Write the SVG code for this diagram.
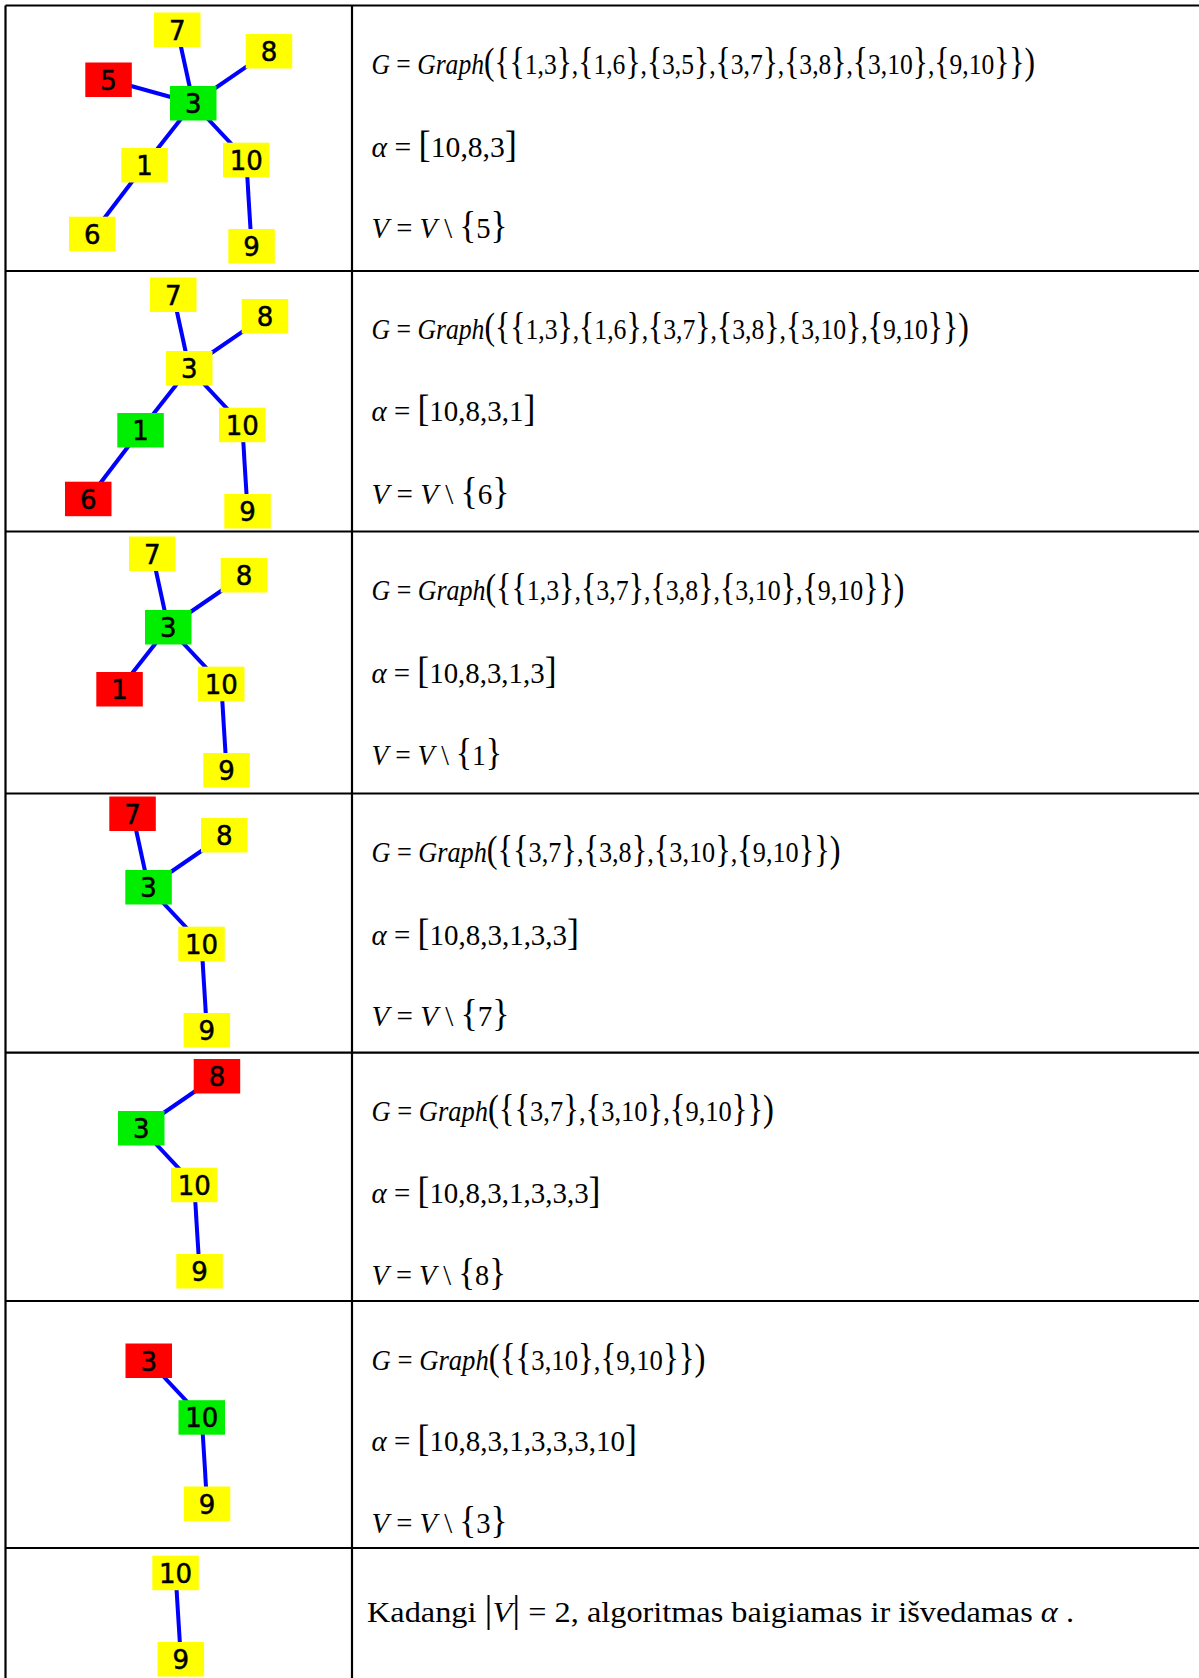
<svg xmlns="http://www.w3.org/2000/svg" width="1199" height="1678" viewBox="0 0 1199 1678">
  <style>
    .cell { stroke: #000; stroke-width: 2.2; fill: none; }
    .edge { stroke: #0000ff; stroke-width: 4; }
    .y { fill: #ffff00; }
    .g { fill: #00ee00; }
    .r { fill: #ff0000; }
    .lbl { font-family: "DejaVu Sans", Verdana, sans-serif; font-size: 26px; text-anchor: middle; fill: #000; stroke: #000; stroke-width: 0.5px; }
    .m { font-family: "Liberation Serif", "Times New Roman", serif; font-size: 30px; fill: #000; }
    .i { font-style: italic; }
    .b { font-size: 37px; }
  </style>
  <rect x="0" y="0" width="1199" height="1678" fill="#ffffff"/>

  <!-- table grid -->
  <g id="table">
    <line class="cell" x1="5.5" y1="5.5" x2="1199" y2="5.5"/>
    <line class="cell" x1="5.5" y1="5.5" x2="5.5" y2="1678"/>
    <line class="cell" x1="352" y1="5.5" x2="352" y2="1678"/>
    <line class="cell" x1="5.5" y1="271" x2="1199" y2="271"/>
    <line class="cell" x1="5.5" y1="531.5" x2="1199" y2="531.5"/>
    <line class="cell" x1="5.5" y1="793.5" x2="1199" y2="793.5"/>
    <line class="cell" x1="5.5" y1="1052.7" x2="1199" y2="1052.7"/>
    <line class="cell" x1="5.5" y1="1301" x2="1199" y2="1301"/>
    <line class="cell" x1="5.5" y1="1548" x2="1199" y2="1548"/>
  </g>

  <!-- step 1 -->
  <g id="step1" transform="translate(0,0)">
    <g id="step1-edges">
      <line class="edge" x1="193.25" y1="103.25" x2="144.55" y2="165.25"/>
      <line class="edge" x1="144.55" y1="165.25" x2="92.25" y2="233.95"/>
      <line class="edge" x1="193.25" y1="103.25" x2="108.55" y2="79.75"/>
      <line class="edge" x1="193.25" y1="103.25" x2="177.25" y2="29.75"/>
      <line class="edge" x1="193.25" y1="103.25" x2="268.95" y2="51.25"/>
      <line class="edge" x1="193.25" y1="103.25" x2="246.25" y2="159.95"/>
      <line class="edge" x1="246.25" y1="159.95" x2="251.55" y2="246.25"/>
    </g>
    <g id="s1-n7" transform="translate(154,12.5)"><rect class="y" width="46.5" height="34.5"/><text class="lbl" x="23.25" y="27">7</text></g>
    <g id="s1-n8" transform="translate(245.7,34)"><rect class="y" width="46.5" height="34.5"/><text class="lbl" x="23.25" y="27">8</text></g>
    <g id="s1-n5" transform="translate(85.3,62.5)"><rect class="r" width="46.5" height="34.5"/><text class="lbl" x="23.25" y="27">5</text></g>
    <g id="s1-n3" transform="translate(170,86)"><rect class="g" width="46.5" height="34.5"/><text class="lbl" x="23.25" y="27">3</text></g>
    <g id="s1-n1" transform="translate(121.3,148)"><rect class="y" width="46.5" height="34.5"/><text class="lbl" x="23.25" y="27">1</text></g>
    <g id="s1-n10" transform="translate(223,142.7)"><rect class="y" width="46.5" height="34.5"/><text class="lbl" x="23.25" y="27">10</text></g>
    <g id="s1-n6" transform="translate(69,216.7)"><rect class="y" width="46.5" height="34.5"/><text class="lbl" x="23.25" y="27">6</text></g>
    <g id="s1-n9" transform="translate(228.3,229)"><rect class="y" width="46.5" height="34.5"/><text class="lbl" x="23.25" y="27">9</text></g>
  </g>
  <g id="step1-text">
    <text class="m" x="371.5" y="74" textLength="663.5" lengthAdjust="spacingAndGlyphs"><tspan class="i">G</tspan> = <tspan class="i">Graph</tspan><tspan class="b">({{</tspan>1,3<tspan class="b">}</tspan>,<tspan class="b">{</tspan>1,6<tspan class="b">}</tspan>,<tspan class="b">{</tspan>3,5<tspan class="b">}</tspan>,<tspan class="b">{</tspan>3,7<tspan class="b">}</tspan>,<tspan class="b">{</tspan>3,8<tspan class="b">}</tspan>,<tspan class="b">{</tspan>3,10<tspan class="b">}</tspan>,<tspan class="b">{</tspan>9,10<tspan class="b">}})</tspan></text>
    <text class="m" x="371.5" y="157" textLength="145.5" lengthAdjust="spacingAndGlyphs"><tspan class="i">α</tspan> = <tspan class="b">[</tspan>10,8,3<tspan class="b">]</tspan></text>
    <text class="m" x="371.5" y="238" textLength="136" lengthAdjust="spacingAndGlyphs"><tspan class="i">V</tspan> = <tspan class="i">V</tspan> \ <tspan class="b">{</tspan>5<tspan class="b">}</tspan></text>
  </g>

  <!-- step 2 -->
  <g id="step2" transform="translate(-4,265)">
    <g id="step2-edges">
      <line class="edge" x1="193.25" y1="103.25" x2="144.55" y2="165.25"/>
      <line class="edge" x1="144.55" y1="165.25" x2="92.25" y2="233.95"/>
      <line class="edge" x1="193.25" y1="103.25" x2="177.25" y2="29.75"/>
      <line class="edge" x1="193.25" y1="103.25" x2="268.95" y2="51.25"/>
      <line class="edge" x1="193.25" y1="103.25" x2="246.25" y2="159.95"/>
      <line class="edge" x1="246.25" y1="159.95" x2="251.55" y2="246.25"/>
    </g>
    <g id="s2-n7" transform="translate(154,12.5)"><rect class="y" width="46.5" height="34.5"/><text class="lbl" x="23.25" y="27">7</text></g>
    <g id="s2-n8" transform="translate(245.7,34)"><rect class="y" width="46.5" height="34.5"/><text class="lbl" x="23.25" y="27">8</text></g>
    <g id="s2-n3" transform="translate(170,86)"><rect class="y" width="46.5" height="34.5"/><text class="lbl" x="23.25" y="27">3</text></g>
    <g id="s2-n1" transform="translate(121.3,148)"><rect class="g" width="46.5" height="34.5"/><text class="lbl" x="23.25" y="27">1</text></g>
    <g id="s2-n10" transform="translate(223,142.7)"><rect class="y" width="46.5" height="34.5"/><text class="lbl" x="23.25" y="27">10</text></g>
    <g id="s2-n6" transform="translate(69,216.7)"><rect class="r" width="46.5" height="34.5"/><text class="lbl" x="23.25" y="27">6</text></g>
    <g id="s2-n9" transform="translate(228.3,229)"><rect class="y" width="46.5" height="34.5"/><text class="lbl" x="23.25" y="27">9</text></g>
  </g>
  <g id="step2-text">
    <text class="m" x="371.5" y="338.6" textLength="597.3" lengthAdjust="spacingAndGlyphs"><tspan class="i">G</tspan> = <tspan class="i">Graph</tspan><tspan class="b">({{</tspan>1,3<tspan class="b">}</tspan>,<tspan class="b">{</tspan>1,6<tspan class="b">}</tspan>,<tspan class="b">{</tspan>3,7<tspan class="b">}</tspan>,<tspan class="b">{</tspan>3,8<tspan class="b">}</tspan>,<tspan class="b">{</tspan>3,10<tspan class="b">}</tspan>,<tspan class="b">{</tspan>9,10<tspan class="b">}})</tspan></text>
    <text class="m" x="371.5" y="421" textLength="163.8" lengthAdjust="spacingAndGlyphs"><tspan class="i">α</tspan> = <tspan class="b">[</tspan>10,8,3,1<tspan class="b">]</tspan></text>
    <text class="m" x="371.5" y="503.5" textLength="138" lengthAdjust="spacingAndGlyphs"><tspan class="i">V</tspan> = <tspan class="i">V</tspan> \ <tspan class="b">{</tspan>6<tspan class="b">}</tspan></text>
  </g>

  <!-- step 3 -->
  <g id="step3" transform="translate(-25,524)">
    <g id="step3-edges">
      <line class="edge" x1="193.25" y1="103.25" x2="144.55" y2="165.25"/>
      <line class="edge" x1="193.25" y1="103.25" x2="177.25" y2="29.75"/>
      <line class="edge" x1="193.25" y1="103.25" x2="268.95" y2="51.25"/>
      <line class="edge" x1="193.25" y1="103.25" x2="246.25" y2="159.95"/>
      <line class="edge" x1="246.25" y1="159.95" x2="251.55" y2="246.25"/>
    </g>
    <g id="s3-n7" transform="translate(154,12.5)"><rect class="y" width="46.5" height="34.5"/><text class="lbl" x="23.25" y="27">7</text></g>
    <g id="s3-n8" transform="translate(245.7,34)"><rect class="y" width="46.5" height="34.5"/><text class="lbl" x="23.25" y="27">8</text></g>
    <g id="s3-n3" transform="translate(170,86)"><rect class="g" width="46.5" height="34.5"/><text class="lbl" x="23.25" y="27">3</text></g>
    <g id="s3-n1" transform="translate(121.3,148)"><rect class="r" width="46.5" height="34.5"/><text class="lbl" x="23.25" y="27">1</text></g>
    <g id="s3-n10" transform="translate(223,142.7)"><rect class="y" width="46.5" height="34.5"/><text class="lbl" x="23.25" y="27">10</text></g>
    <g id="s3-n9" transform="translate(228.3,229)"><rect class="y" width="46.5" height="34.5"/><text class="lbl" x="23.25" y="27">9</text></g>
  </g>
  <g id="step3-text">
    <text class="m" x="371.5" y="600" textLength="533" lengthAdjust="spacingAndGlyphs"><tspan class="i">G</tspan> = <tspan class="i">Graph</tspan><tspan class="b">({{</tspan>1,3<tspan class="b">}</tspan>,<tspan class="b">{</tspan>3,7<tspan class="b">}</tspan>,<tspan class="b">{</tspan>3,8<tspan class="b">}</tspan>,<tspan class="b">{</tspan>3,10<tspan class="b">}</tspan>,<tspan class="b">{</tspan>9,10<tspan class="b">}})</tspan></text>
    <text class="m" x="371.5" y="683" textLength="185" lengthAdjust="spacingAndGlyphs"><tspan class="i">α</tspan> = <tspan class="b">[</tspan>10,8,3,1,3<tspan class="b">]</tspan></text>
    <text class="m" x="371.5" y="765" textLength="130.5" lengthAdjust="spacingAndGlyphs"><tspan class="i">V</tspan> = <tspan class="i">V</tspan> \ <tspan class="b">{</tspan>1<tspan class="b">}</tspan></text>
  </g>

  <!-- step 4 -->
  <g id="step4" transform="translate(-44.7,784)">
    <g id="step4-edges">
      <line class="edge" x1="193.25" y1="103.25" x2="177.25" y2="29.75"/>
      <line class="edge" x1="193.25" y1="103.25" x2="268.95" y2="51.25"/>
      <line class="edge" x1="193.25" y1="103.25" x2="246.25" y2="159.95"/>
      <line class="edge" x1="246.25" y1="159.95" x2="251.55" y2="246.25"/>
    </g>
    <g id="s4-n7" transform="translate(154,12.5)"><rect class="r" width="46.5" height="34.5"/><text class="lbl" x="23.25" y="27">7</text></g>
    <g id="s4-n8" transform="translate(245.7,34)"><rect class="y" width="46.5" height="34.5"/><text class="lbl" x="23.25" y="27">8</text></g>
    <g id="s4-n3" transform="translate(170,86)"><rect class="g" width="46.5" height="34.5"/><text class="lbl" x="23.25" y="27">3</text></g>
    <g id="s4-n10" transform="translate(223,142.7)"><rect class="y" width="46.5" height="34.5"/><text class="lbl" x="23.25" y="27">10</text></g>
    <g id="s4-n9" transform="translate(228.3,229)"><rect class="y" width="46.5" height="34.5"/><text class="lbl" x="23.25" y="27">9</text></g>
  </g>
  <g id="step4-text">
    <text class="m" x="371.5" y="862" textLength="469" lengthAdjust="spacingAndGlyphs"><tspan class="i">G</tspan> = <tspan class="i">Graph</tspan><tspan class="b">({{</tspan>3,7<tspan class="b">}</tspan>,<tspan class="b">{</tspan>3,8<tspan class="b">}</tspan>,<tspan class="b">{</tspan>3,10<tspan class="b">}</tspan>,<tspan class="b">{</tspan>9,10<tspan class="b">}})</tspan></text>
    <text class="m" x="371.5" y="944.6" textLength="207.5" lengthAdjust="spacingAndGlyphs"><tspan class="i">α</tspan> = <tspan class="b">[</tspan>10,8,3,1,3,3<tspan class="b">]</tspan></text>
    <text class="m" x="371.5" y="1026" textLength="138" lengthAdjust="spacingAndGlyphs"><tspan class="i">V</tspan> = <tspan class="i">V</tspan> \ <tspan class="b">{</tspan>7<tspan class="b">}</tspan></text>
  </g>

  <!-- step 5 -->
  <g id="step5" transform="translate(-52,1025)">
    <g id="step5-edges">
      <line class="edge" x1="193.25" y1="103.25" x2="268.95" y2="51.25"/>
      <line class="edge" x1="193.25" y1="103.25" x2="246.25" y2="159.95"/>
      <line class="edge" x1="246.25" y1="159.95" x2="251.55" y2="246.25"/>
    </g>
    <g id="s5-n8" transform="translate(245.7,34)"><rect class="r" width="46.5" height="34.5"/><text class="lbl" x="23.25" y="27">8</text></g>
    <g id="s5-n3" transform="translate(170,86)"><rect class="g" width="46.5" height="34.5"/><text class="lbl" x="23.25" y="27">3</text></g>
    <g id="s5-n10" transform="translate(223,142.7)"><rect class="y" width="46.5" height="34.5"/><text class="lbl" x="23.25" y="27">10</text></g>
    <g id="s5-n9" transform="translate(228.3,229)"><rect class="y" width="46.5" height="34.5"/><text class="lbl" x="23.25" y="27">9</text></g>
  </g>
  <g id="step5-text">
    <text class="m" x="371.5" y="1121" textLength="402.5" lengthAdjust="spacingAndGlyphs"><tspan class="i">G</tspan> = <tspan class="i">Graph</tspan><tspan class="b">({{</tspan>3,7<tspan class="b">}</tspan>,<tspan class="b">{</tspan>3,10<tspan class="b">}</tspan>,<tspan class="b">{</tspan>9,10<tspan class="b">}})</tspan></text>
    <text class="m" x="371.5" y="1202.6" textLength="229" lengthAdjust="spacingAndGlyphs"><tspan class="i">α</tspan> = <tspan class="b">[</tspan>10,8,3,1,3,3,3<tspan class="b">]</tspan></text>
    <text class="m" x="371.5" y="1285" textLength="134.5" lengthAdjust="spacingAndGlyphs"><tspan class="i">V</tspan> = <tspan class="i">V</tspan> \ <tspan class="b">{</tspan>8<tspan class="b">}</tspan></text>
  </g>

  <!-- step 6 -->
  <g id="step6" transform="translate(-44.5,1257.5)">
    <g id="step6-edges">
      <line class="edge" x1="193.25" y1="103.25" x2="246.25" y2="159.95"/>
      <line class="edge" x1="246.25" y1="159.95" x2="251.55" y2="246.25"/>
    </g>
    <g id="s6-n3" transform="translate(170,86)"><rect class="r" width="46.5" height="34.5"/><text class="lbl" x="23.25" y="27">3</text></g>
    <g id="s6-n10" transform="translate(223,142.7)"><rect class="g" width="46.5" height="34.5"/><text class="lbl" x="23.25" y="27">10</text></g>
    <g id="s6-n9" transform="translate(228.3,229)"><rect class="y" width="46.5" height="34.5"/><text class="lbl" x="23.25" y="27">9</text></g>
  </g>
  <g id="step6-text">
    <text class="m" x="371.5" y="1369.5" textLength="334" lengthAdjust="spacingAndGlyphs"><tspan class="i">G</tspan> = <tspan class="i">Graph</tspan><tspan class="b">({{</tspan>3,10<tspan class="b">}</tspan>,<tspan class="b">{</tspan>9,10<tspan class="b">}})</tspan></text>
    <text class="m" x="371.5" y="1451" textLength="265.5" lengthAdjust="spacingAndGlyphs"><tspan class="i">α</tspan> = <tspan class="b">[</tspan>10,8,3,1,3,3,3,10<tspan class="b">]</tspan></text>
    <text class="m" x="371.5" y="1533" textLength="136" lengthAdjust="spacingAndGlyphs"><tspan class="i">V</tspan> = <tspan class="i">V</tspan> \ <tspan class="b">{</tspan>3<tspan class="b">}</tspan></text>
  </g>

  <!-- step 7 -->
  <g id="step7" transform="translate(-70.7,1413)">
    <g id="step7-edges">
      <line class="edge" x1="246.25" y1="159.95" x2="251.55" y2="246.25"/>
    </g>
    <g id="s7-n10" transform="translate(223,142.7)"><rect class="y" width="46.5" height="34.5"/><text class="lbl" x="23.25" y="27">10</text></g>
    <g id="s7-n9" transform="translate(228.3,229)"><rect class="y" width="46.5" height="34.5"/><text class="lbl" x="23.25" y="27">9</text></g>
  </g>
  <g id="step7-text">
    <text class="m" x="367" y="1622" textLength="707" lengthAdjust="spacingAndGlyphs">Kadangi <tspan class="b">|</tspan><tspan class="i">V</tspan><tspan class="b">|</tspan> = 2, algoritmas baigiamas ir išvedamas  <tspan class="i">α</tspan> .</text>
  </g>
</svg>
